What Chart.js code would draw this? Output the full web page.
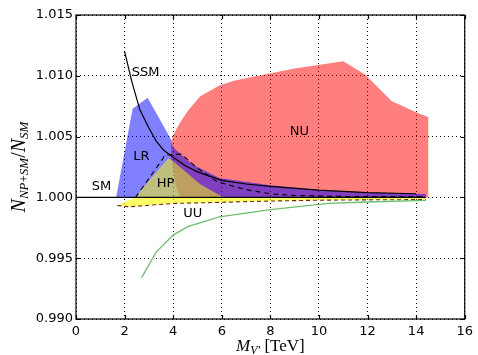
<!DOCTYPE html>
<html>
<head>
<meta charset="utf-8">
<script src="https://cdn.jsdelivr.net/npm/chart.js@4.4.0/dist/chart.umd.min.js"></script>
<style>
  html, body { margin: 0; padding: 0; background: #fff; }
  #wrap { width: 478px; height: 355px; }
</style>
</head>
<body>
<div id="wrap"><canvas id="chart"></canvas></div>
<script>
// axis ticks
const xTicks = [0, 2, 4, 6, 8, 10, 12, 14, 16];
const yTicks = [0.990, 0.995, 1.000, 1.005, 1.010, 1.015];

// NU region (red)
const nuX = [4.3, 4.1, 3.95, 3.92, 3.97, 4.1, 4.3, 4.6, 5.1, 5.9, 6.5, 7.5, 9.0, 11.0, 11.9, 13.0, 14.0, 14.5, 14.5];
const nuY = [1.0000, 1.0010, 1.0030, 1.0042, 1.0049, 1.0055, 1.0062, 1.0071, 1.0083, 1.0092, 1.0096, 1.0100, 1.0106, 1.0112, 1.0101, 1.0079, 1.0070, 1.0066, 1.0000];

// LR region (blue)
const lrX = [1.65, 2.33, 2.95, 3.93, 4.0, 4.8, 5.9, 8.0, 10.0, 12.0, 14.4, 14.4];
const lrY = [1.0000, 1.0073, 1.0082, 1.0047, 1.0041, 1.0027, 1.0016, 1.0010, 1.0006, 1.0004, 1.00027, 1.0000];

// HP region (yellow, translucent)
const hpX = [2.42, 3.79, 3.92, 4.4, 5.1, 5.8, 6.1];
const hpY = [1.0000, 1.0032, 1.0031, 1.0023, 1.0011, 1.0003, 1.0000];

// HP dashed contour
const hpEdgeX = [2.45, 3.58, 3.65, 4.34, 5.0, 5.8, 6.5, 7.1, 8.0, 9.0, 11.0, 14.3];
const hpEdgeY = [1.0000, 1.0032, 1.00348, 1.00356, 1.0024, 1.0013, 1.0009, 1.0006, 1.0003, 1.00015, 1.00008, 1.00005];

// UU band (yellow)
const uuX = [1.7, 2.42, 14.4, 14.4, 12.0, 10.0, 8.0, 6.0, 4.0, 3.0, 2.2];
const uuY = [0.99934, 1.0000, 1.0000, 0.99982, 0.9998, 0.99977, 0.9997, 0.9996, 0.9995, 0.99935, 0.99923];
const uuEdgeX = [1.7, 2.2, 3.0, 4.0, 6.0, 8.0, 10.0, 12.0, 14.4];
const uuEdgeY = [0.99934, 0.99923, 0.99935, 0.9995, 0.9996, 0.9997, 0.99977, 0.9998, 0.99982];

// UU curve (green)
const uuLineX = [2.7, 3.3, 4.0, 4.6, 5.9, 8.0, 10.4, 12.0, 14.4];
const uuLineY = [0.9934, 0.9955, 0.9969, 0.9976, 0.9984, 0.9990, 0.99951, 0.99962, 0.99975];

// SSM curve (black)
const ssmX = [2.0, 2.3, 2.63, 3.0, 3.31, 3.6, 4.0, 4.5, 5.0, 6.0, 7.0, 8.0, 10.0, 12.0, 14.0];
const ssmY = [1.0120, 1.0095, 1.0072, 1.0057, 1.0046, 1.0039, 1.0033, 1.0026, 1.0021, 1.0014, 1.0011, 1.0009, 1.0006, 1.0004, 1.0003];

// SM reference
const smX = [0, 14.4];
const smY = [1.0, 1.0];

// in-plot labels
const tagText = ["SSM", "SM", "LR", "HP", "UU", "NU"];
const tagX = [2.87, 1.05, 2.69, 3.69, 4.81, 9.19];
const tagY = [1.0103, 1.00088, 1.00334, 1.0011, 0.99869, 1.0054];

const pts = (xs, ys) => xs.map((x, i) => ({ x, y: ys[i] }));

const area = (label, xs, ys, color, order) => ({
  label,
  data: pts(xs, ys),
  showLine: true,
  fill: "shape",
  backgroundColor: color,
  borderColor: "rgba(0,0,0,0)",
  borderWidth: 0,
  pointRadius: 0,
  order
});

const curve = (label, xs, ys, color, width, dash, order) => ({
  label,
  data: pts(xs, ys),
  showLine: true,
  fill: false,
  borderColor: color,
  borderWidth: width,
  borderDash: dash,
  pointRadius: 0,
  order
});

const frame = {
  id: "frame",
  afterDatasetsDraw(chart) {
    const { ctx, chartArea: a, scales } = chart;
    ctx.save();
    ctx.strokeStyle = "#000";
    ctx.lineWidth = 1.2;
    ctx.beginPath();
    xTicks.forEach(v => {
      const px = Math.round(scales.x.getPixelForValue(v)) + 0.5;
      ctx.moveTo(px, a.bottom); ctx.lineTo(px, a.bottom - 4);
      ctx.moveTo(px, a.top); ctx.lineTo(px, a.top + 4);
    });
    yTicks.forEach(v => {
      const py = Math.round(scales.y.getPixelForValue(v)) + 0.5;
      ctx.moveTo(a.left, py); ctx.lineTo(a.left + 4, py);
      ctx.moveTo(a.right, py); ctx.lineTo(a.right - 4, py);
    });
    ctx.stroke();
    ctx.strokeRect(a.left, a.top, a.right - a.left, a.bottom - a.top);

    ctx.fillStyle = "#000";
    ctx.font = "13px 'DejaVu Sans'";
    ctx.textAlign = "center";
    ctx.textBaseline = "middle";
    tagText.forEach((t, i) => {
      ctx.fillText(t, scales.x.getPixelForValue(tagX[i]), scales.y.getPixelForValue(tagY[i]));
    });
    ctx.restore();
  }
};

function drawRich(ctx, parts, cx, baseY) {
  let total = 0;
  parts.forEach(p => { ctx.font = p.font; p.w = ctx.measureText(p.t).width; total += p.w; });
  let x = cx - total / 2;
  ctx.textAlign = "left";
  ctx.textBaseline = "alphabetic";
  parts.forEach(p => {
    ctx.font = p.font;
    ctx.fillText(p.t, x, baseY + (p.dy || 0));
    x += p.w;
  });
}

const titles = {
  id: "titles",
  afterDraw(chart) {
    const { ctx, chartArea: a } = chart;
    const serif = "'Liberation Serif'";
    ctx.save();
    ctx.fillStyle = "#000";
    drawRich(ctx, [
      { t: "M", font: "italic 17px " + serif },
      { t: "V\u2032", font: "italic 12px " + serif, dy: 3 },
      { t: " [TeV]", font: "17px " + serif }
    ], (a.left + a.right) / 2, 351);

    ctx.translate(25, (a.top + a.bottom) / 2);
    ctx.rotate(-Math.PI / 2);
    drawRich(ctx, [
      { t: "N", font: "italic 20px " + serif },
      { t: "NP", font: "italic 13px " + serif, dy: 3 },
      { t: "+", font: "13px " + serif, dy: 3 },
      { t: "SM", font: "italic 13px " + serif, dy: 3 },
      { t: "/", font: "20px " + serif },
      { t: "N", font: "italic 20px " + serif },
      { t: "SM", font: "italic 13px " + serif, dy: 3 }
    ], 0, 0);
    ctx.restore();
  }
};

const tickFont = { family: "'DejaVu Sans'", size: 13 };

new Chart(document.getElementById("chart"), {
  type: "scatter",
  data: {
    datasets: [
      curve("SSM", ssmX, ssmY, "#000", 1.2, [], 0),
      curve("SM", smX, smY, "#000", 1.2, [], 1),
      curve("UU line", uuLineX, uuLineY, "rgb(110,190,110)", 1.3, [], 2),
      curve("HP edge", hpEdgeX, hpEdgeY, "#000", 1.1, [5, 4], 3),
      curve("UU edge", uuEdgeX, uuEdgeY, "rgb(110,40,20)", 1.1, [4, 3], 4),
      area("HP", hpX, hpY, "rgba(255,255,0,0.5)", 5),
      area("UU", uuX, uuY, "rgba(255,255,0,0.6)", 6),
      area("LR", lrX, lrY, "rgba(0,0,255,0.5)", 7),
      area("NU", nuX, nuY, "rgba(255,0,0,0.5)", 8)
    ]
  },
  options: {
    responsive: true,
    maintainAspectRatio: false,
    animation: false,
    layout: { padding: { left: 0, top: 15, right: 11, bottom: 0 } },
    plugins: { legend: { display: false }, tooltip: { enabled: false } },
    scales: {
      x: {
        type: "linear",
        min: 0,
        max: 16,
        afterBuildTicks: scale => { scale.ticks = xTicks.map(v => ({ value: v })); },
        afterFit: scale => { scale.height = 36; },
        ticks: { font: tickFont, color: "#000", padding: 5, maxRotation: 0 },
        grid: { color: "#000", lineWidth: 1, drawTicks: false },
        border: { display: false, dash: [1, 3] }
      },
      y: {
        type: "linear",
        min: 0.990,
        max: 1.015,
        afterBuildTicks: scale => { scale.ticks = yTicks.map(v => ({ value: v })); },
        afterFit: scale => { scale.width = 76; },
        ticks: { font: tickFont, color: "#000", padding: 3, callback: v => v.toFixed(3) },
        grid: { color: "#000", lineWidth: 1, drawTicks: false },
        border: { display: false, dash: [1, 3] }
      }
    }
  },
  plugins: [frame, titles]
});
</script>
</body>
</html>
